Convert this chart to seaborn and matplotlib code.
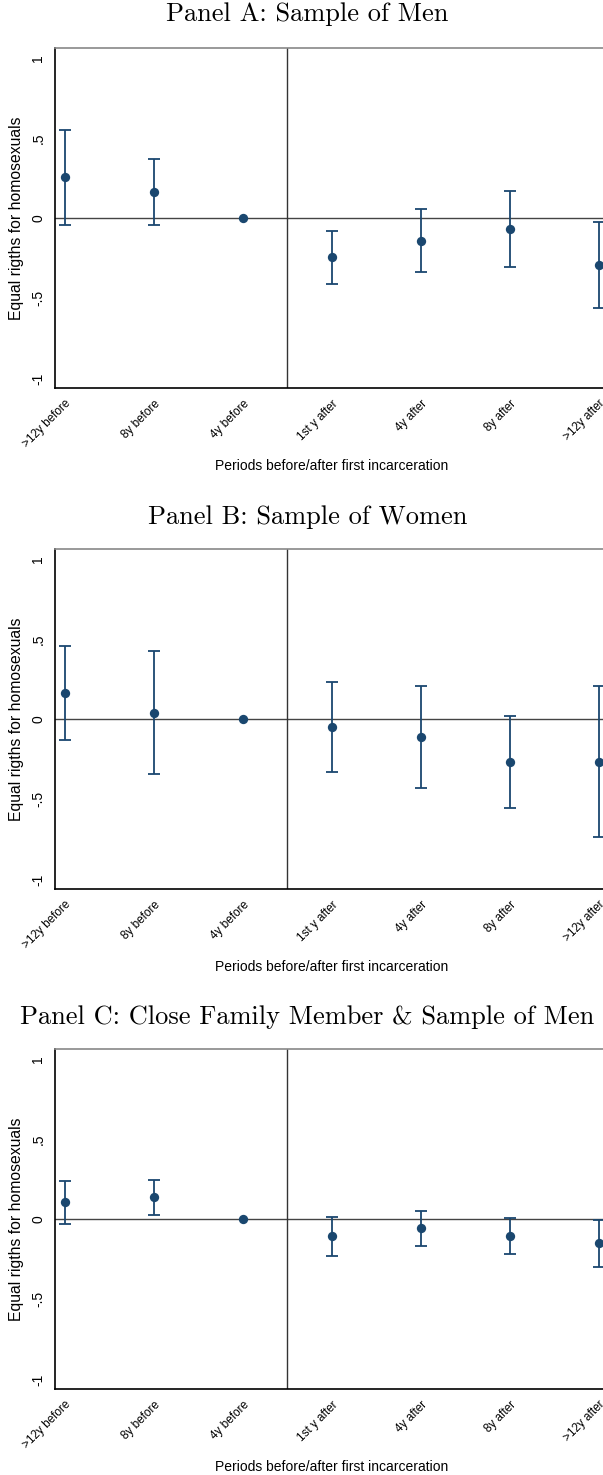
import numpy as np
import pandas as pd
import matplotlib
matplotlib.use("Agg")
import matplotlib.pyplot as plt
import seaborn as sns

periods = [">12y before", "8y before", "4y before", "1st y after", "4y after", "8y after", ">12y after"]

men_coef = [0.256, 0.163, 0.0, -0.242, -0.140, -0.067, -0.292]
men_lo = [-0.042, -0.042, 0.0, -0.408, -0.336, -0.304, -0.558]
men_hi = [0.552, 0.373, 0.0, -0.077, 0.056, 0.169, -0.023]

women_coef = [0.163, 0.040, 0.0, -0.048, -0.112, -0.267, -0.267]
women_lo = [-0.131, -0.344, 0.0, -0.331, -0.431, -0.554, -0.735]
women_hi = [0.456, 0.425, 0.0, 0.233, 0.206, 0.023, 0.206]

fam_coef = [0.106, 0.138, 0.0, -0.104, -0.056, -0.104, -0.150]
fam_lo = [-0.027, 0.029, 0.0, -0.227, -0.167, -0.217, -0.298]
fam_hi = [0.242, 0.244, 0.0, 0.017, 0.052, 0.010, -0.004]

titles = ["Panel A: Sample of Men", "Panel B: Sample of Women",
          "Panel C: Close Family Member & Sample of Men"]
ytick_vals = [-1, -0.5, 0, 0.5, 1]
ytick_labels = ["-1", "-.5", "0", ".5", "1"]
ylabel = "Equal rigths for homosexuals"
xlabel = "Periods before/after first incarceration"

sns.set_theme(style="white")
plt.rcParams['font.family'] = ['Liberation Sans', 'DejaVu Sans']
plt.rcParams['text.color'] = 'black'
plt.rcParams['axes.labelcolor'] = 'black'
plt.rcParams['xtick.color'] = 'black'
plt.rcParams['ytick.color'] = 'black'

W, H = 603, 1475
fig = plt.figure(figsize=(W / 100, H / 100), dpi=100)
navy = "#1a476f"

panels = [(men_coef, men_lo, men_hi), (women_coef, women_lo, women_hi), (fam_coef, fam_lo, fam_hi)]
tops = [48, 549, 1049]
title_y = [14, 517, 1017]
left_px, right_px, ax_h = 55, 609, 340

for k, (coef, lo, hi) in enumerate(panels):
    top = tops[k]
    ax = fig.add_axes([left_px / W, 1 - (top + ax_h) / H, (right_px - left_px) / W, ax_h / H])
    df = pd.DataFrame({"pos": np.arange(len(periods)), "coef": coef, "lo": lo, "hi": hi})
    ax.axhline(0, color="#444444", lw=1.0, zorder=1)
    ax.axvline(2.5, color="#333333", lw=1.0, zorder=1)
    sub = df[df["lo"] != df["hi"]]
    ax.errorbar(sub["pos"], sub["coef"],
                yerr=[sub["coef"] - sub["lo"], sub["hi"] - sub["coef"]],
                fmt="none", ecolor=navy, elinewidth=1.3, capsize=4, capthick=1.3, zorder=2)
    sns.scatterplot(data=df, x="pos", y="coef", ax=ax, color=navy, s=45,
                    edgecolor=navy, linewidth=0, zorder=3)
    ax.set_xlim(-0.112, 6.112)
    ax.set_ylim(-1.06, 1.064)
    ax.set_xticks(df["pos"])
    ax.set_xticklabels(periods, rotation=45, ha="right", rotation_mode="anchor", fontsize=8.5)
    ax.set_yticks(ytick_vals)
    ax.set_yticklabels(ytick_labels, rotation=90, va="center", fontsize=10)
    ax.tick_params(axis="both", direction="out", length=4, width=1, color="black", pad=3)
    ax.tick_params(axis="x", pad=3)
    ax.set_ylabel(ylabel, fontsize=11.3, labelpad=5)
    ax.set_xlabel(xlabel, fontsize=10, labelpad=6)
    for side in ["left", "bottom"]:
        ax.spines[side].set_color("black")
        ax.spines[side].set_linewidth(1.2)
    ax.spines["top"].set_color("#888888")
    ax.spines["top"].set_linewidth(1.2)
    ax.spines["right"].set_visible(False)
    ax.grid(False)
    fig.text(0.51, 1 - title_y[k] / H, titles[k], ha="center", va="center",
             fontsize=19, color="black", family=["cmr10", "DejaVu Serif"])

fig.savefig("out.png", dpi=100)
